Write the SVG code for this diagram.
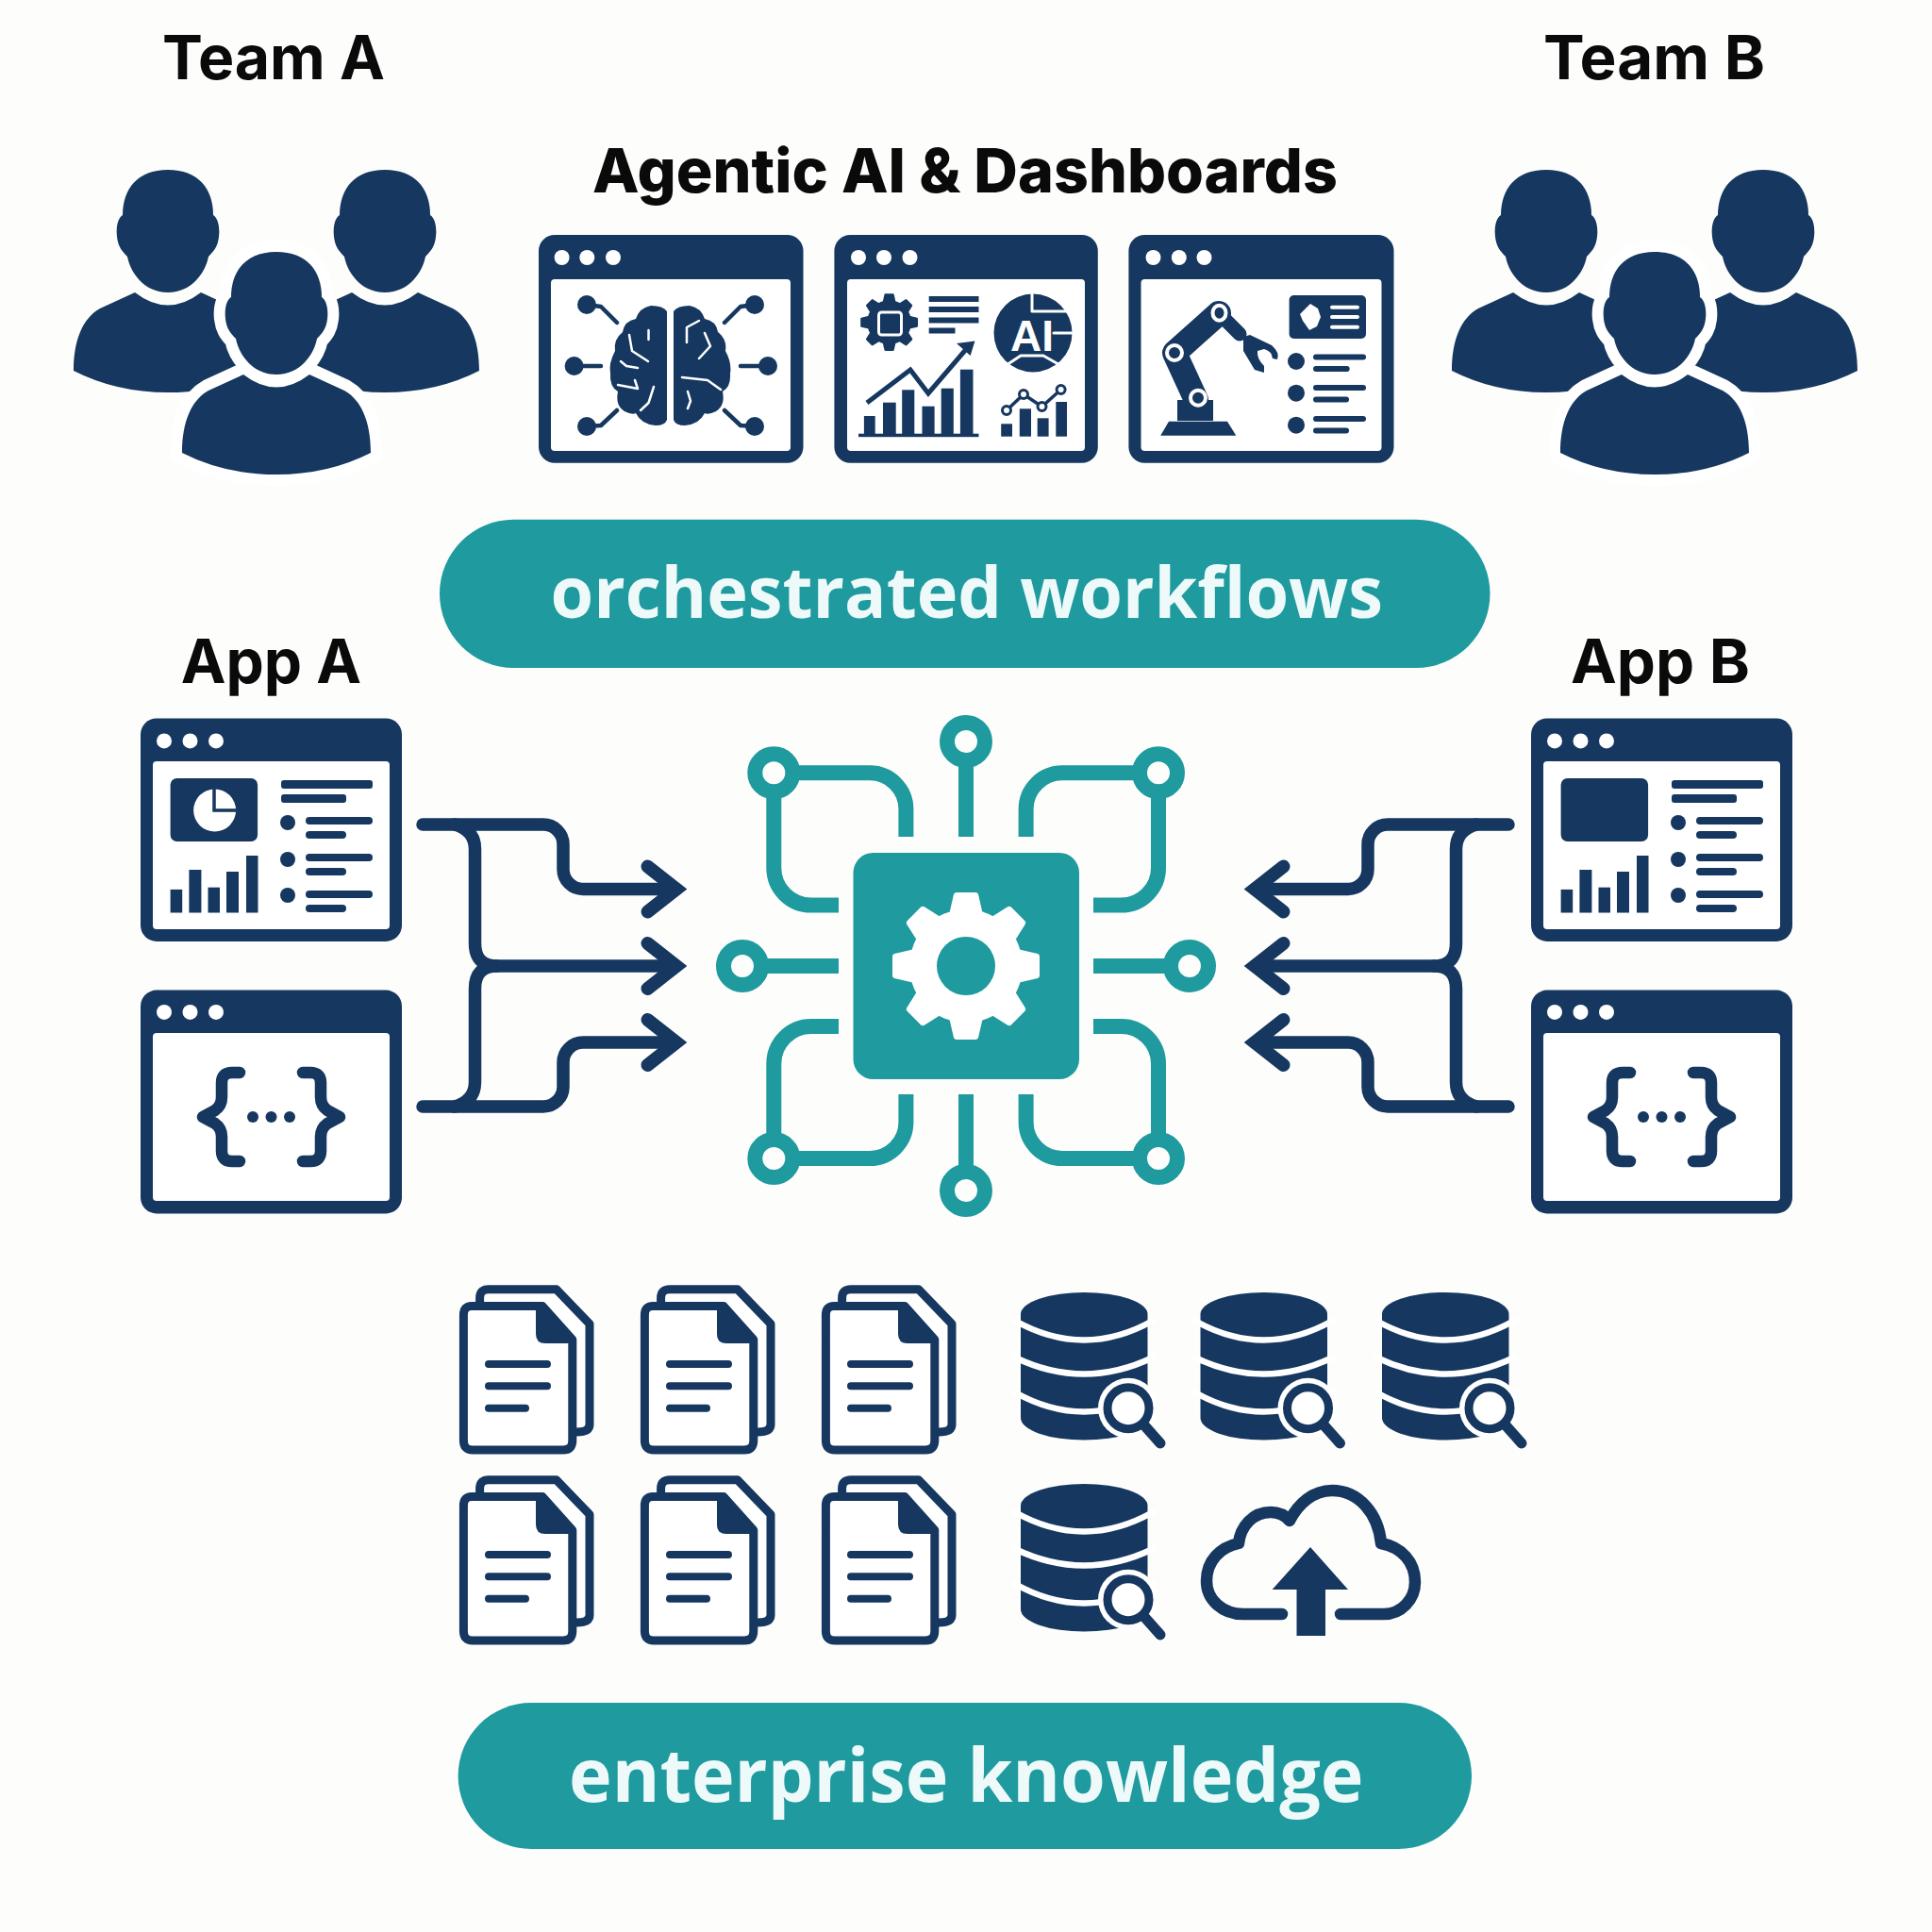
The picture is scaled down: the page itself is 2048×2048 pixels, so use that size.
<svg xmlns="http://www.w3.org/2000/svg" xmlns:xlink="http://www.w3.org/1999/xlink" width="2048" height="2048" viewBox="0 0 2048 2048">
<style>
.n{fill:#16375f}
.w{fill:#fff}
.t{fill:#1f9a9e}
.ls{fill:none;stroke:#16375f;stroke-linecap:round;stroke-linejoin:round}
.wl{fill:none;stroke:#fff;stroke-linecap:round;stroke-linejoin:round}
.cb{fill:none;stroke:#1f9a9e;stroke-width:16}
.cn{fill:none;stroke:#16375f;stroke-width:13.5;stroke-linecap:round}
.h{font-family:Inter,"Liberation Sans",sans-serif;font-weight:700;font-size:65px;fill:#0a0a0a}
.p{font-family:"Open Sans","Noto Sans",sans-serif;font-weight:700;fill:#eefafa}
</style>
<defs>
<marker id="arrow" markerUnits="userSpaceOnUse" markerWidth="60" markerHeight="80" refX="45" refY="40" orient="auto" viewBox="0 0 60 80">
<path d="M14.5 16 L45 40 L14.5 64" fill="none" stroke="#16375f" stroke-width="14" stroke-linecap="round" stroke-linejoin="miter"/>
</marker>
<g id="person">
<path d="M0 0C32 0 48 20 48 48C54 52 55 63 54 71C53 80 50 85 43 92C40 108 26 130 0 130C-26 130 -40 108 -43 92C-50 85 -53 80 -54 71C-55 63 -54 52 -48 48C-48 20 -32 0 0 0Z"/>
<path d="M-35 130Q0 157 35 130L72 147C90 157 100 180 100 213Q55 236 0 236Q-55 236 -100 213C-100 180 -90 157 -72 147Z"/>
</g>
<g id="people">
<use href="#person" transform="translate(178,180)" class="n"/>
<use href="#person" transform="translate(408,180)" class="n"/>
<use href="#person" transform="translate(293,267)" fill="#16375f" stroke="#fff" stroke-width="24" stroke-linejoin="round" paint-order="stroke"/>
</g>
<g id="appframe">
<rect class="n" x="149" y="761.4" width="277" height="236.5" rx="17"/>
<rect class="w" x="162" y="807" width="251" height="178" rx="4"/>
<circle class="w" cx="174" cy="785.4" r="8"/><circle class="w" cx="201.5" cy="785.4" r="8"/><circle class="w" cx="229" cy="785.4" r="8"/>
<g class="n">
<rect x="298" y="827" width="97" height="9" rx="3"/><rect x="298" y="842" width="69" height="9" rx="3"/>
<circle cx="305" cy="872" r="8"/><rect x="324" y="866" width="71" height="8" rx="4"/><rect x="324" y="881" width="43" height="8" rx="4"/>
<circle cx="305" cy="911" r="8"/><rect x="324" y="905" width="71" height="8" rx="4"/><rect x="324" y="920" width="43" height="8" rx="4"/>
<circle cx="305" cy="949" r="8"/><rect x="324" y="944" width="71" height="8" rx="4"/><rect x="324" y="959" width="43" height="8" rx="4"/>
<rect x="180.6" y="942.9" width="12.6" height="24.6"/><rect x="200.4" y="922" width="13" height="45.5"/><rect x="220.5" y="940.7" width="12.5" height="26.8"/><rect x="240" y="924" width="13" height="43.5"/><rect x="261" y="907" width="12.5" height="60.5"/>
<rect x="180.6" y="825" width="92.5" height="67" rx="7"/>
</g>
</g>
<g id="codeframe">
<rect class="n" x="149" y="1049.6" width="277" height="236.8" rx="17"/>
<rect class="w" x="162" y="1095" width="251" height="178" rx="4"/>
<circle class="w" cx="174" cy="1072.9" r="8"/><circle class="w" cx="201.5" cy="1072.9" r="8"/><circle class="w" cx="229" cy="1072.9" r="8"/>
<path class="ls" stroke-width="12.500" d="M254 1137H246Q235 1137 235 1148V1163Q235 1172 228 1177L215 1184L228 1191Q235 1196 235 1205V1220Q235 1231 246 1231H254"/>
<path class="ls" stroke-width="12.500" d="M321 1137H329Q340 1137 340 1148V1163Q340 1172 347 1177L360 1184L347 1191Q340 1196 340 1205V1220Q340 1231 329 1231H321"/>
<circle class="n" cx="268" cy="1184" r="6"/><circle class="n" cx="287.5" cy="1184" r="6"/><circle class="n" cx="307" cy="1184" r="6"/>
</g>
<g id="doc">
<path d="M508.6 1383V1376Q508.6 1366.7 518 1366.7H589.6L625 1403.3V1510Q625 1518 611 1518" fill="#fff" stroke="#16375f" stroke-width="9" stroke-linejoin="round"/>
<path d="M500 1384.5H575L606.8 1420V1527Q606.8 1537 597 1537H501Q491.4 1537 491.4 1527V1394Q491.4 1384.5 500 1384.5Z" fill="#fff" stroke="#16375f" stroke-width="9" stroke-linejoin="round"/>
<path class="n" d="M568 1385H576L606.8 1420V1424H578Q568 1424 568 1414Z"/>
<path class="ls" stroke-width="8" d="M518 1446H580M518 1469.3H580M518 1492.7H557"/>
</g>
<g id="db">
<path class="n" d="M1082 1393A67 23 0 0 1 1216.5 1393V1503A67 23.500 0 0 1 1082 1503Z"/>
<path class="wl" stroke-width="6.500" d="M1076 1400Q1149 1441 1222 1400M1076 1439Q1149 1474 1222 1439M1076 1476Q1149 1517 1222 1476"/>
<circle cx="1196" cy="1492.700" r="32" fill="#fff"/>
<circle cx="1196" cy="1492.700" r="22" fill="#fff" stroke="#16375f" stroke-width="9"/>
<path class="ls" stroke-width="11" d="M1214 1512L1230 1530"/>
</g>
<path id="tooth" d="M-19 -50L-13 -76Q-12.500 -78 -10 -78H10Q12.500 -78 13 -76L19 -50Z"/>
</defs>
<rect width="2048" height="2048" fill="#fdfefc"/>

<g id="team-a">
<text class="h" x="172" y="84" textLength="236" lengthAdjust="spacingAndGlyphs">Team A</text>
<use href="#people"/>
</g>
<g id="team-b">
<text class="h" x="1636" y="84" textLength="235" lengthAdjust="spacingAndGlyphs">Team B</text>
<use href="#people" transform="translate(1461,0)"/>
</g>
<g id="title">
<text class="h" style="font-weight:800" x="628" y="204" textLength="790" lengthAdjust="spacingAndGlyphs">Agentic AI &amp; Dashboards</text>
</g>

<g id="dashboard-brain">
<rect class="n" x="571" y="249" width="280.500" height="241.700" rx="17"/>
<rect class="w" x="584" y="296" width="254" height="182" rx="4"/>
<circle class="w" cx="595.600" cy="273" r="8"/><circle class="w" cx="622.300" cy="273" r="8"/><circle class="w" cx="650" cy="273" r="8"/>
<path id="lobe-l" class="n" d="M707 330Q703 324 690 324Q678 326 674 338Q662 340 660 352Q650 360 652 372Q645 385 647 396Q646 410 655 415Q652 430 662 436Q670 440 674 438Q680 450 695 451Q705 451 707 445Z"/>
<path class="n" d="M714 330Q718 324 731 324Q743 326 747 338Q759 340 761 352Q771 360 769 372Q776 385 774 396Q775 410 766 415Q769 430 759 436Q751 440 747 438Q741 450 726 451Q716 451 714 445Z"/>
<path class="wl" stroke-width="2.500" d="M667 355L670 372L687 383M687.500 350V360M658 383L664 388L676 390M655 408L676 412L673 403M693 410L687.500 427L679 435"/>
<path class="wl" stroke-width="2.500" d="M741 340L728 347V363M747 353L753 367L741 380M723 400L750 403L764 413M729 415L732 425L729 433"/>
<g class="n">
<circle cx="622" cy="323" r="10"/><circle cx="800" cy="323" r="10"/><circle cx="608.600" cy="388" r="10"/><circle cx="814" cy="388" r="10"/><circle cx="622" cy="452" r="10"/><circle cx="800" cy="452" r="10"/>
</g>
<path class="ls" stroke-width="4.500" d="M622 323L637 325L654 342M800 323L785 325L768 342M608 388H637M814 388H785M622 452L637 451L654 435M800 452L785 451L768 435"/>
</g>

<g id="dashboard-charts">
<rect class="n" x="884.400" y="249" width="279.400" height="241.700" rx="17"/>
<rect class="w" x="898" y="296" width="252" height="182" rx="4"/>
<circle class="w" cx="910" cy="273" r="8"/><circle class="w" cx="937" cy="273" r="8"/><circle class="w" cx="964.500" cy="273" r="8"/>
<g class="n" transform="translate(942.600,341.700) scale(.39)">
<circle r="60"/><use href="#tooth"/><use href="#tooth" transform="rotate(45)"/><use href="#tooth" transform="rotate(90)"/><use href="#tooth" transform="rotate(135)"/><use href="#tooth" transform="rotate(180)"/><use href="#tooth" transform="rotate(225)"/><use href="#tooth" transform="rotate(270)"/><use href="#tooth" transform="rotate(315)"/>
</g>
<rect x="931.500" y="331" width="24" height="24" rx="3" fill="#16375f" stroke="#fff" stroke-width="3"/>
<g class="n">
<rect x="984.700" y="314" width="52.800" height="6"/><rect x="984.700" y="325" width="52.800" height="6"/><rect x="984.700" y="336.500" width="52.800" height="6"/><rect x="984.700" y="347.500" width="27.800" height="6"/>
<circle cx="1095" cy="353" r="41.500"/>
<rect x="915.900" y="441" width="11.800" height="19"/><rect x="936" y="426.700" width="13.700" height="33.300"/><rect x="956.200" y="413.300" width="13.100" height="46.700"/><rect x="977.500" y="430.700" width="13.100" height="29.300"/><rect x="997.700" y="411.700" width="13.100" height="48.300"/><rect x="1017.900" y="391.700" width="13.600" height="68.300"/>
<rect x="910" y="459.700" width="127.500" height="3.500"/>
<rect x="1061.200" y="449.300" width="11.800" height="13.400"/><rect x="1080.800" y="433.300" width="12.200" height="29.400"/><rect x="1099.700" y="443.300" width="11.900" height="19.400"/><rect x="1119.300" y="426" width="11.700" height="36.700"/>
<path d="M1014 364L1033.500 361.500L1028.600 377Z"/>
</g>
<path class="wl" stroke-width="3" d="M1094 312V330H1130M1117 353H1136M1067 387L1082 377H1106L1123.500 387"/>
<text x="1071" y="372" font-family="Liberation Sans,Arial,sans-serif" font-weight="700" font-size="46" fill="#fff">AI</text>
<path fill="none" stroke="#16375f" stroke-width="5" d="M919 427L965 392L984 417L1026 368"/>
<path fill="none" stroke="#fff" stroke-width="7.500" d="M1067 435L1085 418L1104.500 431L1124.600 413"/>
<path fill="none" stroke="#16375f" stroke-width="3.500" d="M1067 435L1085 418L1104.500 431L1124.600 413"/>
<g fill="#fff" stroke="#16375f" stroke-width="3">
<circle cx="1067" cy="435" r="4.500"/><circle cx="1085" cy="418" r="4.500"/><circle cx="1104.500" cy="431" r="4.500"/><circle cx="1124.600" cy="413" r="4.500"/>
</g>
</g>

<g id="dashboard-robot">
<rect class="n" x="1196.400" y="249" width="281.100" height="241.700" rx="17"/>
<rect class="w" x="1209.500" y="296" width="255" height="182" rx="4"/>
<circle class="w" cx="1222.500" cy="273" r="8"/><circle class="w" cx="1249.800" cy="273" r="8"/><circle class="w" cx="1276.500" cy="273" r="8"/>
<path class="n" d="M1239 446.700H1301L1310.300 461.700H1230.200Z"/>
<rect class="n" x="1248" y="424" width="38" height="22"/>
<path class="ls" stroke-width="26" d="M1268 424L1245 374L1292 332"/>
<path class="ls" stroke-width="15" stroke-linecap="butt" d="M1296 336L1314 354"/>
<path class="n" d="M1318 357L1325 355L1348 366Q1357 374 1354 381L1349 380Q1348 372 1340 370L1333 372Q1332 380 1340 388L1340 395L1330 392L1318 372Z"/>
<g fill="#16375f" stroke="#fff" stroke-width="4">
<ellipse cx="1245" cy="374" rx="8" ry="8"/><ellipse cx="1270" cy="421.700" rx="8" ry="8"/><ellipse cx="1292.500" cy="331.700" rx="7" ry="8"/>
</g>
<rect class="n" x="1366.600" y="313" width="81.400" height="46" rx="5"/>
<path class="w" d="M1389 322L1397 327L1400 336L1396 346L1388 350L1381 340L1378 333Z"/>
<path class="wl" stroke-width="4" stroke-linecap="butt" d="M1412 325.700H1439M1412 336H1439M1412 346.700H1439"/>
<g class="n">
<circle cx="1374" cy="383" r="9"/><circle cx="1374" cy="416.700" r="9"/><circle cx="1374" cy="450.700" r="9"/>
<rect x="1392" y="375.500" width="56" height="6" rx="3"/><rect x="1392" y="388" width="38.700" height="6" rx="3"/>
<rect x="1392" y="408" width="56" height="6" rx="3"/><rect x="1392" y="420.500" width="38" height="6" rx="3"/>
<rect x="1392" y="441" width="56" height="6" rx="3"/><rect x="1392" y="453.500" width="38" height="6" rx="3"/>
</g>
</g>

<g id="workflows-pill">
<rect class="t" x="466" y="550.700" width="1113.500" height="157.300" rx="78.600"/>
<text class="p" x="583.500" y="655" font-size="76" textLength="882.500" lengthAdjust="spacingAndGlyphs">orchestrated workflows</text>
</g>

<g id="app-a">
<text class="h" x="191.700" y="724" textLength="191.300" lengthAdjust="spacingAndGlyphs">App A</text>
<use href="#appframe"/>
<circle class="w" cx="227.600" cy="859" r="22.500"/>
<path d="M227 835V859H250" fill="none" stroke="#16375f" stroke-width="3.500"/>
<use href="#codeframe"/>
</g>
<g id="app-b">
<text class="h" x="1665" y="724" textLength="190" lengthAdjust="spacingAndGlyphs">App B</text>
<use href="#appframe" transform="translate(1474,0)"/>
<use href="#codeframe" transform="translate(1474,0)"/>
</g>

<g id="connectors">
<g id="connectors-left">
<path class="cn" d="M448 874H576A21 21 0 0 1 597 895V921.500A21 21 0 0 0 618 942.500H717" marker-end="url(#arrow)"/>
<path class="cn" d="M482 874Q503.500 880 503.500 900V1000Q503.500 1024 527 1024H717" marker-end="url(#arrow)"/>
<path class="cn" d="M527 1024Q503.500 1024 503.500 1048V1147Q503.500 1167 482 1173"/>
<path class="cn" d="M448 1173H576A21 21 0 0 0 597 1152V1126A21 21 0 0 1 618 1105H717" marker-end="url(#arrow)"/>
</g>
<g id="connectors-right" transform="translate(2047,0) scale(-1,1)">
<path class="cn" d="M448 874H576A21 21 0 0 1 597 895V921.500A21 21 0 0 0 618 942.500H717" marker-end="url(#arrow)"/>
<path class="cn" d="M482 874Q503.500 880 503.500 900V1000Q503.500 1024 527 1024H717" marker-end="url(#arrow)"/>
<path class="cn" d="M527 1024Q503.500 1024 503.500 1048V1147Q503.500 1167 482 1173"/>
<path class="cn" d="M448 1173H576A21 21 0 0 0 597 1152V1126A21 21 0 0 1 618 1105H717" marker-end="url(#arrow)"/>
</g>
</g>

<g id="orchestrator">
<path class="cb" d="M1024 786V887M1024 1262V1160M787 1024H889M1261 1024H1159"/>
<path class="cb" d="M820.300 819.300H922A38.400 38.400 0 0 1 960.400 857.700V887M820.300 819.300V920A39.600 39.600 0 0 0 859.900 959.600H889"/>
<path class="cb" d="M1228 819.300H1126A38.400 38.400 0 0 0 1087.600 857.700V887M1228 819.300V920A39.600 39.600 0 0 1 1188.400 959.600H1159"/>
<path class="cb" d="M820.300 1228H922A38.400 38.400 0 0 0 960.400 1189.600V1160M820.300 1228V1127.600A39.600 39.600 0 0 1 859.900 1088H889"/>
<path class="cb" d="M1228 1228H1126A38.400 38.400 0 0 1 1087.600 1189.600V1160M1228 1228V1127.600A39.600 39.600 0 0 0 1188.400 1088H1159"/>
<g fill="#fdfefc" stroke="#1f9a9e" stroke-width="16">
<circle cx="1024" cy="786" r="20"/><circle cx="1024" cy="1262" r="20"/><circle cx="787" cy="1024" r="20"/><circle cx="1261" cy="1024" r="20"/>
<circle cx="820.300" cy="819.300" r="20"/><circle cx="1228" cy="819.300" r="20"/><circle cx="820.300" cy="1228" r="20"/><circle cx="1228" cy="1228" r="20"/>
</g>
<rect class="t" x="904.500" y="904" width="239.500" height="240" rx="21"/>
<g class="w" transform="translate(1024,1024)">
<circle r="60"/><use href="#tooth"/><use href="#tooth" transform="rotate(45)"/><use href="#tooth" transform="rotate(90)"/><use href="#tooth" transform="rotate(135)"/><use href="#tooth" transform="rotate(180)"/><use href="#tooth" transform="rotate(225)"/><use href="#tooth" transform="rotate(270)"/><use href="#tooth" transform="rotate(315)"/>
<circle class="t" r="31"/>
</g>
</g>

<g id="documents">
<use href="#doc"/><use href="#doc" transform="translate(192,0)"/><use href="#doc" transform="translate(384,0)"/>
<use href="#doc" transform="translate(0,202)"/><use href="#doc" transform="translate(192,202)"/><use href="#doc" transform="translate(384,202)"/>
</g>
<g id="databases">
<use href="#db"/><use href="#db" transform="translate(190.500,0)"/><use href="#db" transform="translate(383,0)"/>
<use href="#db" transform="translate(0,203)"/>
</g>
<g id="cloud-upload">
<path class="ls" stroke-width="12.500" stroke-linecap="butt" d="M1359 1711H1318C1296 1711 1279 1696 1279 1676C1279 1654 1294 1640 1313 1636C1315 1618 1328 1603 1347 1603C1356 1603 1362 1606 1367 1612C1376 1594 1392 1580 1412 1580C1440 1580 1461 1604 1464 1636C1486 1640 1500 1656 1500 1677C1500 1696 1485 1711 1467 1711H1421"/>
<path class="n" d="M1389 1640L1429 1685H1405V1734H1374.500V1685H1348.600Z"/>
</g>

<g id="knowledge-pill">
<rect class="t" x="485.600" y="1805" width="1074.400" height="155" rx="77.500"/>
<text class="p" x="603" y="1910" font-size="78" textLength="842.500" lengthAdjust="spacingAndGlyphs">enterprise knowledge</text>
</g>
</svg>
